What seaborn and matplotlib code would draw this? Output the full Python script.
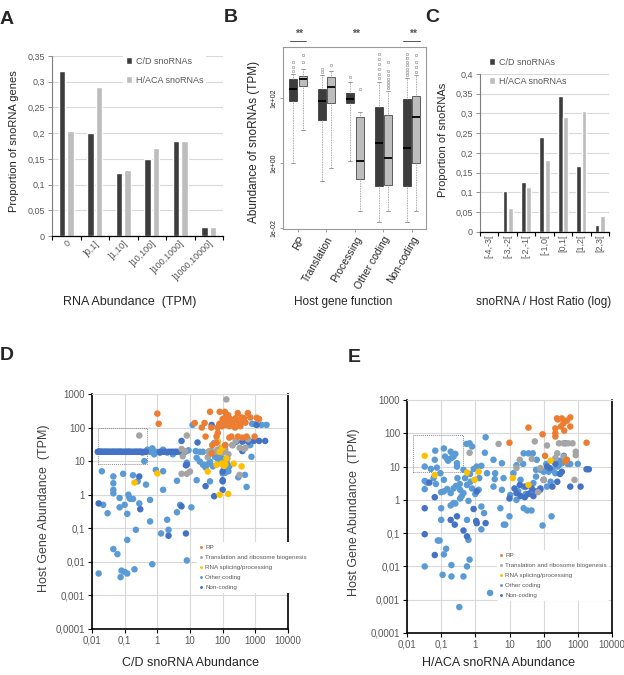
import numpy as np
import pandas as pd
import seaborn as sns
import matplotlib.pyplot as plt
from matplotlib.patches import Rectangle

# ---------------- data ----------------
# A: snoRNA abundance distribution
abund_bins = ["0", "]0,1]", "]1,10]", "]10,100]", "]100,1000]", "]1000,10000]"]
cd_abund = [0.321, 0.201, 0.122, 0.150, 0.185, 0.017]
haca_abund = [0.205, 0.289, 0.128, 0.172, 0.185, 0.017]
prop_ticks_a = [0, 0.05, 0.1, 0.15, 0.2, 0.25, 0.3, 0.35]
prop_labels_a = ["0", "0,05", "0,1", "0,15", "0,2", "0,25", "0,3", "0,35"]

# B: abundance of snoRNAs by host gene function (box stats, TPM)
host_functions = ["RP", "Translation", "Processing", "Other coding", "Non-coding"]
cd_whislo = [1.0, 0.27, 1.1, 0.0155, 0.0155]
cd_q1 = [78, 21, 72, 0.195, 0.19]
cd_med = [190, 78, 93, 4.2, 2.8]
cd_q3 = [380, 186, 145, 54, 93]
cd_whishi = [550, 500, 316, 316, 400]
cd_fliers = [[700, 900, 1300], [650, 800], [450],
             [400, 550, 800, 1100, 1600, 2300],
             [500, 650, 800, 1000, 1300, 1700, 2300]]
haca_whislo = [10.5, 0.7, 0.032, 0.032, 0.032]
haca_q1 = [235, 72, 0.32, 0.21, 0.98]
haca_med = [380, 224, 1.1, 1.4, 26]
haca_q3 = [480, 437, 26, 30, 117]
haca_whishi = [800, 700, 38, 160, 500]
haca_fliers = [[1300, 2100], [1000], [190],
               [200, 250, 300, 380, 500, 700, 1300],
               [650, 900, 1300, 2100]]
signif = ["**", "", "**", "", "**"]
signif_groups = [0, 2, 4]
signif_lines = [0, 4]

# C: snoRNA / host ratio
ratio_bins = ["[-4,-3[", "[-3,-2[", "[-2,-1[", "[-1,0[", "[0,1[", "[1,2[", "[2,3["]
cd_ratio = [0.0, 0.103, 0.127, 0.240, 0.343, 0.167, 0.017]
haca_ratio = [0.0, 0.061, 0.114, 0.183, 0.290, 0.305, 0.039]
prop_ticks_c = [0, 0.05, 0.1, 0.15, 0.2, 0.25, 0.3, 0.35, 0.4]
prop_labels_c = ["0", "0,05", "0,1", "0,15", "0,2", "0,25", "0,3", "0,35", "0,4"]

# D / E: snoRNA abundance vs host gene abundance
log_x_ticks = [0.01, 0.1, 1, 10, 100, 1000, 10000]
log_x_labels = ["0,01", "0,1", "1", "10", "100", "1000", "10000"]
log_y_ticks = [0.0001, 0.001, 0.01, 0.1, 1, 10, 100, 1000]
log_y_labels = ["0,0001", "0,001", "0,01", "0,1", "1", "10", "100", "1000"]
categories = ["RP", "Translation and ribosome biogenesis", "RNA splicing/processing",
              "Other coding", "Non-coding"]
cat_colors = ["#ED7D31", "#A5A5A5", "#FFC000", "#5B9BD5", "#4472C4"]

cd_rp = [(1.0, 260), (1.1, 130), (14, 137), (23, 100), (28, 137), (30, 54), (41, 295),
         (45, 100), (65, 54), (70, 100), (81, 295), (95, 110), (100, 180), (110, 150),
         (117, 295), (120, 200), (130, 120), (140, 160), (148, 235), (160, 110),
         (170, 180), (186, 54), (200, 140), (220, 110), (250, 190), (290, 270),
         (300, 150), (330, 120), (380, 200), (420, 160), (500, 140), (590, 270),
         (295, 54), (540, 54), (950, 54), (700, 200), (1100, 195), (1300, 180),
         (46, 17), (65, 35), (71, 69), (48, 30), (120, 30), (160, 50), (400, 50),
         (80, 130), (240, 100), (350, 110), (450, 190)]
cd_tr = [(0.28, 58), (8, 58), (5.5, 23), (6, 14), (7, 20), (8, 4.2), (5.5, 4.2), (10, 4.9),
         (36, 19), (50, 19), (60, 19), (35, 13), (40, 20), (70, 22), (90, 25), (100, 18),
         (120, 22), (130, 690), (140, 12), (150, 16), (200, 30), (250, 40), (330, 25),
         (330, 3.9), (450, 23), (500, 25), (600, 45), (60, 35)]
cd_sp = [(0.2, 2.3), (1.0, 4.3), (35, 4.9), (72, 38), (81, 19), (65, 7.8), (92, 8.4),
         (100, 8.4), (110, 7.2), (120, 8), (220, 8.4), (380, 7), (81, 1.0), (148, 1.05),
         (100, 25), (130, 12)]
cd_oc = [(0.016, 0.0045), (0.02, 5), (0.022, 0.5), (0.03, 0.28), (0.045, 3.5), (0.045, 2.2),
         (0.045, 1.4), (0.045, 1.1), (0.045, 0.024), (0.06, 0.017), (0.07, 0.8), (0.07, 0.42),
         (0.075, 0.0035), (0.08, 0.0055), (0.09, 4.2), (0.1, 0.5), (0.1, 0.005), (0.12, 0.27),
         (0.12, 0.045), (0.12, 0.0045), (0.13, 1.0), (0.14, 0.8), (0.15, 0.75), (0.18, 3.8),
         (0.18, 0.75), (0.2, 0.006), (0.22, 0.09), (0.25, 2.5), (0.28, 0.55), (0.4, 10),
         (0.45, 2), (0.6, 0.7), (0.6, 0.16), (0.7, 0.0085), (0.9, 5.5), (1.3, 0.07), (1.5, 5),
         (1.5, 1.4), (2, 0.18), (2.2, 0.09), (4, 2.6), (4, 0.3), (5, 0.5), (8, 0.011),
         (11, 0.42), (16, 2.7), (41, 2.5), (12, 120), (8, 9), (9, 21), (16, 12.6), (20, 9.7),
         (25, 7.8), (33, 7.8), (41, 9.7), (58, 13.5), (72, 19), (30, 6.5), (50, 7), (70, 12),
         (80, 15), (100, 4.3), (120, 4.5), (110, 6), (120, 30), (130, 10), (140, 8), (150, 5),
         (160, 7), (200, 30), (300, 3.3), (480, 3.9), (540, 1.7), (760, 13.5), (700, 30),
         (800, 130), (1550, 120), (2200, 120), (1000, 125), (15, 20), (20, 19), (25, 19),
         (0.5, 22), (0.6, 19), (0.7, 24), (0.9, 19), (0.8, 16), (1.5, 22), (2, 18), (3, 16),
         (6, 17), (0.35, 18), (45, 20), (55, 35), (100, 12), (90, 10)]
cd_nc = [(0.016, 0.55), (0.28, 3.5), (0.3, 0.37), (1.2, 18), (2.2, 0.06), (5.5, 0.45),
         (7.5, 0.07), (7.5, 7.5), (5.5, 40), (17, 36), (30, 1.8), (55, 0.9), (100, 2.5),
         (100, 1.4), (100, 4.9), (100, 2.7), (46, 120), (80, 120), (100, 120), (120, 120),
         (1100, 120), (260, 38), (400, 38), (600, 38), (900, 40), (1300, 40), (2000, 40),
         (400, 20), (8, 7.8)]
# many C/D snoRNAs sharing one non-coding host at ~19 TPM
cd_shared_host_tpm = 19
cd_shared_host_x = [0.015, 0.016, 0.017, 0.018, 0.019, 0.02, 0.022, 0.024, 0.026, 0.028,
                    0.03, 0.033, 0.036, 0.04, 0.043, 0.047, 0.05, 0.055, 0.06, 0.065, 0.07,
                    0.075, 0.08, 0.09, 0.1, 0.11, 0.12, 0.13, 0.14, 0.15, 0.17, 0.19, 0.21,
                    0.23, 0.25, 0.28, 0.3, 0.33, 0.4, 0.45, 1.2, 1.5, 1.8, 2.2, 2.6, 3, 3.5,
                    4, 5, 6, 7]

haca_rp = [(10, 52), (36, 148), (93, 93), (110, 21), (245, 280), (340, 280), (380, 200),
           (220, 140), (220, 100), (220, 80), (480, 240), (600, 160), (600, 300), (430, 14),
           (480, 16), (1800, 52), (320, 160), (400, 120), (260, 260)]
haca_tr = [(4.8, 48), (0.68, 26), (55, 57), (125, 43), (280, 50), (380, 50), (520, 50),
           (700, 50), (870, 28), (870, 22), (800, 4), (100, 4), (68, 1.7), (16, 9), (20, 16),
           (390, 20), (250, 25), (220, 18), (45, 17), (80, 9)]
haca_sp = [(0.033, 21), (0.065, 5.6), (0.57, 6.6), (0.95, 4.0), (1.25, 7), (12.5, 4.5),
           (36, 2.8), (160, 15)]
haca_oc = [(0.067, 30), (0.065, 16), (0.033, 10), (0.033, 3.7), (0.033, 2.1), (0.038, 3.3),
           (0.033, 0.01), (0.075, 9.3), (0.095, 6.3), (0.12, 4), (0.12, 35), (0.13, 20),
           (0.15, 17), (0.19, 28), (0.23, 20), (0.26, 24), (0.29, 12.6), (0.29, 10), (0.16, 15),
           (0.2, 18), (0.12, 1.8), (0.1, 1.7), (0.15, 2.1), (0.19, 1.6), (0.23, 2.2), (0.27, 2.6),
           (0.36, 2), (0.45, 1.6), (0.4, 1.3), (0.57, 2.8), (0.72, 3.5), (0.23, 0.8), (0.26, 0.78),
           (0.36, 1.1), (0.63, 0.93), (0.55, 48), (0.68, 50), (0.8, 40), (2.0, 76), (1.9, 26),
           (1.5, 10.5), (2.2, 6.3), (3.4, 16), (3.8, 6.3), (3.4, 2.5), (6, 12.6), (6.7, 4.5),
           (6, 2), (5.4, 0.56), (1.8, 0.4), (1.25, 2), (1.5, 0.63), (1.5, 0.13), (0.57, 0.25),
           (0.63, 0.063), (0.68, 0.016), (0.57, 0.01), (0.45, 0.005), (0.2, 0.005),
           (0.11, 0.0056), (0.2, 0.011), (0.12, 0.023), (0.14, 0.034), (0.08, 0.06),
           (0.09, 0.06), (0.1, 0.56), (0.1, 0.25), (0.19, 0.68), (3.7, 4.2), (0.34, 0.0006),
           (2.7, 0.0016), (6.8, 0.18), (7.5, 0.18), (10, 0.32), (26, 0.56), (33, 0.48),
           (44, 0.48), (93, 0.17), (170, 0.32), (16, 1), (10.5, 1.4), (13, 6.3), (16, 11),
           (26, 25), (36, 25), (48, 25), (63, 16), (80, 8), (100, 7), (140, 7), (180, 8),
           (220, 6.3), (280, 11), (340, 12.6), (430, 50), (600, 12), (1000, 12), (21, 4),
           (26, 2.5), (40, 1.6), (50, 3.2), (80, 2), (125, 2.5), (160, 3.5), (0.45, 8),
           (0.5, 4.5), (0.7, 6), (0.9, 8.5), (1.1, 10), (1.3, 4.5), (0.35, 3), (0.3, 4.5),
           (0.8, 2.2), (1.0, 1.5), (0.06, 4.5), (0.07, 3), (0.05, 8.5), (25, 12), (60, 8),
           (120, 12), (200, 15), (250, 10), (300, 15), (500, 12), (30, 1.5), (18, 1.8), (60, 5)]
haca_nc = [(0.033, 0.56), (0.033, 0.093), (0.045, 3.3), (0.065, 1.2), (0.065, 0.022),
           (0.19, 0.25), (0.29, 0.32), (0.25, 0.18), (0.45, 0.12), (0.57, 0.08), (0.89, 0.53),
           (1.06, 0.23), (1.1, 0.2), (2.0, 0.2), (1.1, 1.8), (10, 1.1), (14, 2.2), (16, 1.6),
           (21, 1.3), (28, 1.2), (36, 1.5), (50, 1.3), (80, 2.2), (100, 4), (180, 2.5),
           (250, 3.5), (340, 7), (390, 21), (600, 2.5), (1200, 2.5), (1800, 8.3), (2100, 8.3),
           (125, 10), (220, 12), (30, 2.5), (45, 2.2), (60, 1.8), (150, 9), (300, 6), (20, 2.8)]

# dotted boxes (x0, x1, y0, y1)
cd_box = [0.015, 0.48, 8.3, 100]
haca_box = [0.015, 0.43, 7.1, 87]

# ---------------- style ----------------
sns.set_style("white")
plt.rcParams["font.family"] = ["Liberation Sans", "DejaVu Sans"]
dark, light = "#3d3d3d", "#bdbdbd"
grid_c = "#d9d9d9"
tick_c = "#595959"

W, H = 624, 675
fig = plt.figure(figsize=(W / 100, H / 100), dpi=100)


def place(l, t, r, b):
    return fig.add_axes([l / W, 1 - b / H, (r - l) / W, (b - t) / H])


def at(ax, x, y):
    # pixel (from top-left) -> axes coords
    return ax.transAxes.inverted().transform((x, H - y))


def panel_letter(s, x, y):
    fig.text(x / W, 1 - y / H, s, fontsize=14, fontweight="bold", ha="center", va="center")


def bar_panel(ax, bins, cd, haca, ticks, ticklabels, rot, gap):
    df = pd.DataFrame({
        "bin": bins * 2,
        "prop": cd + haca,
        "type": ["C/D snoRNAs"] * len(bins) + ["H/ACA snoRNAs"] * len(bins),
    })
    sns.barplot(df, x="bin", y="prop", hue="type", palette=[dark, light],
                saturation=1, width=0.6, gap=gap, ax=ax)
    ax.set_xlim(-0.5, len(bins) - 0.5)
    ax.set_ylim(0, ticks[-1])
    ax.set_yticks(ticks)
    ax.set_yticklabels(ticklabels)
    ax.yaxis.grid(True, color=grid_c, lw=0.8)
    ax.set_axisbelow(True)
    for s in ["top", "right"]:
        ax.spines[s].set_visible(False)
    ax.spines["left"].set_color("#7f7f7f")
    ax.spines["left"].set_linewidth(0.8)
    ax.spines["bottom"].set_color("black")
    ax.spines["bottom"].set_linewidth(0.9)
    ax.tick_params(axis="y", left=True, length=3, width=0.6, color="#7f7f7f",
                   labelsize=6.5, labelcolor=tick_c, pad=2)
    ax.set_xticks(range(len(bins)))
    ax.set_xticks(np.arange(len(bins) + 1) - 0.5, minor=True)
    ax.tick_params(axis="x", which="major", length=0, labelsize=6.5, labelcolor=tick_c, pad=2)
    ax.tick_params(axis="x", which="minor", bottom=True, length=3, width=0.8, color="black")
    if rot == 90:
        ax.set_xticklabels(bins, rotation=90, ha="center", va="top")
    else:
        ax.set_xticklabels(bins, rotation=rot, ha="right", va="top", rotation_mode="anchor")
    ax.set_xlabel("")
    ax.set_ylabel("")


# ---------------- A ----------------
ax_a = place(52, 56, 223, 236)
bar_panel(ax_a, abund_bins, cd_abund, haca_abund, prop_ticks_a, prop_labels_a, 45, 0.25)
h, l = ax_a.get_legend_handles_labels()
ax_a.legend(h, l, loc="upper left", bbox_to_anchor=at(ax_a, 123, 54), fontsize=6.5,
            frameon=True, facecolor="white", edgecolor="none", framealpha=1,
            handlelength=0.7, handleheight=0.7, handletextpad=0.4, labelspacing=1.1,
            borderpad=0.3, borderaxespad=0, labelcolor=tick_c)
ax_a.set_ylabel("Proportion of snoRNA genes", fontsize=8)
ax_a.yaxis.set_label_coords(*at(ax_a, 19, 141))
ax_a.set_xlabel("RNA Abundance  (TPM)", fontsize=9)
ax_a.xaxis.set_label_coords(*at(ax_a, 130, 296))

# ---------------- B ----------------
ax_b = place(283, 47, 426, 229)
pos = np.arange(len(host_functions))
for off, col, lo, q1, md, q3, hi, fl in [
        (-0.165, dark, cd_whislo, cd_q1, cd_med, cd_q3, cd_whishi, cd_fliers),
        (0.165, light, haca_whislo, haca_q1, haca_med, haca_q3, haca_whishi, haca_fliers)]:
    stats = [dict(whislo=lo[i], q1=q1[i], med=md[i], q3=q3[i], whishi=hi[i], fliers=fl[i])
             for i in range(len(host_functions))]
    ax_b.bxp(stats, positions=pos + off, widths=0.28, patch_artist=True,
             boxprops=dict(facecolor=col, edgecolor="#2a2a2a", lw=0.5),
             medianprops=dict(color="black", lw=1.3),
             whiskerprops=dict(color="#8c8c8c", lw=0.6, linestyle=(0, (1, 1))),
             capprops=dict(color="#8c8c8c", lw=0.6), capwidths=0.14,
             flierprops=dict(marker="o", markersize=1.8, markerfacecolor="none",
                             markeredgecolor="#8c8c8c", markeredgewidth=0.4))
ax_b.set_yscale("log")
ax_b.set_ylim(10 ** -2.04, 10 ** 3.57)
ax_b.set_xlim(-0.53, 4.5)
ax_b.set_yticks([0.01, 1, 100])
ax_b.set_yticklabels(["1e-02", "1e+00", "1e+02"], rotation=90, va="center")
ax_b.yaxis.set_minor_locator(plt.NullLocator())
ax_b.tick_params(axis="y", left=True, length=2.5, width=0.5, color="#7f7f7f", labelsize=5, pad=1.5)
ax_b.set_xticks(pos)
ax_b.set_xticklabels(host_functions, rotation=60, ha="right", va="top", rotation_mode="anchor")
ax_b.tick_params(axis="x", bottom=True, length=2, width=0.5, color="#7f7f7f", labelsize=7.5, pad=2)
for s in ax_b.spines.values():
    s.set_color("#9a9a9a")
    s.set_linewidth(0.8)
for g in signif_groups:
    ax_b.text(g + 0.05, 1.07, signif[g], transform=ax_b.get_xaxis_transform(),
              ha="center", va="center", fontsize=7.5, fontweight="bold",
              color="#555555", clip_on=False)
for g in signif_lines:
    ax_b.plot([g - 0.3, g + 0.28], [1.033, 1.033], transform=ax_b.get_xaxis_transform(),
              color="#555555", lw=0.7, clip_on=False)
ax_b.set_ylabel("Abundance of snoRNAs (TPM)", fontsize=8.5)
ax_b.yaxis.set_label_coords(*at(ax_b, 260, 142))
ax_b.set_xlabel("Host gene function", fontsize=8.5)
ax_b.xaxis.set_label_coords(*at(ax_b, 343, 296))

# ---------------- C ----------------
ax_c = place(480, 74, 609, 231.7)
bar_panel(ax_c, ratio_bins, cd_ratio, haca_ratio, prop_ticks_c, prop_labels_c, 90, 0.15)
h, l = ax_c.get_legend_handles_labels()
ax_c.legend(h, l, loc="upper left", bbox_to_anchor=at(ax_c, 486, 55), fontsize=6.5,
            frameon=False, handlelength=0.7, handleheight=0.7, handletextpad=0.4,
            labelspacing=1.1, borderpad=0.3, borderaxespad=0, labelcolor=tick_c)
ax_c.set_ylabel("Proportion of snoRNAs", fontsize=8)
ax_c.yaxis.set_label_coords(*at(ax_c, 448, 140))
ax_c.set_xlabel("snoRNA / Host Ratio (log)", fontsize=8.5)
ax_c.xaxis.set_label_coords(*at(ax_c, 544, 296))


# ---------------- D / E ----------------
def scatter_panel(ax, groups, box, legend_px, xlabel):
    rows = []
    for cat in [3, 4, 1, 2, 0]:
        for x, y in groups[cat]:
            rows.append((x, y, categories[cat]))
    df = pd.DataFrame(rows, columns=["snorna", "host", "function"])
    sns.scatterplot(df, x="snorna", y="host", hue="function", hue_order=categories,
                    palette=cat_colors, s=22, linewidth=0, alpha=1, ax=ax, zorder=3)
    ax.set_xscale("log")
    ax.set_yscale("log")
    ax.set_xlim(0.01, 10000)
    ax.set_ylim(0.0001, 1000)
    ax.set_xticks(log_x_ticks)
    ax.set_xticklabels(log_x_labels)
    ax.set_yticks(log_y_ticks)
    ax.set_yticklabels(log_y_labels)
    ax.xaxis.set_minor_locator(plt.NullLocator())
    ax.yaxis.set_minor_locator(plt.NullLocator())
    ax.grid(True, color=grid_c, lw=0.8)
    ax.set_axisbelow(True)
    for s in ["left", "bottom", "right"]:
        ax.spines[s].set_color("black")
        ax.spines[s].set_linewidth(1.2)
    ax.spines["top"].set_color(grid_c)
    ax.spines["top"].set_linewidth(0.8)
    ax.tick_params(left=True, bottom=True, length=3, width=0.8, color="black",
                   labelsize=7, labelcolor=tick_c, pad=2)
    ax.add_patch(Rectangle((box[0], box[2]), box[1] - box[0], box[3] - box[2],
                           fill=False, ec="#8c8c8c", lw=0.7, ls=(0, (1, 1)), zorder=2))
    h, l = ax.get_legend_handles_labels()
    leg = ax.legend(h, l, loc="upper left", bbox_to_anchor=at(ax, *legend_px), fontsize=4.5,
                    frameon=True, facecolor="white", edgecolor="none", framealpha=1,
                    markerscale=0.45, handlelength=0.6, handletextpad=0.3,
                    labelspacing=0.75, borderpad=0.4, borderaxespad=0, labelcolor=tick_c)
    leg.set_zorder(10)
    ax.set_ylabel("Host Gene Abundance  (TPM)", fontsize=9, color="#404040")
    ax.set_xlabel(xlabel, fontsize=9)


ax_d = place(92, 394, 288, 629)
scatter_panel(ax_d, [cd_rp, cd_tr, cd_sp, cd_oc,
                     cd_nc + [(x, cd_shared_host_tpm) for x in cd_shared_host_x]],
              cd_box, (197, 542), "C/D snoRNA Abundance")
ax_d.yaxis.set_label_coords(*at(ax_d, 50, 508))
ax_d.xaxis.set_label_coords(*at(ax_d, 191, 657))

ax_e = place(407, 400, 612, 633)
scatter_panel(ax_e, [haca_rp, haca_tr, haca_sp, haca_oc, haca_nc],
              haca_box, (497, 550), "H/ACA snoRNA Abundance")
ax_e.yaxis.set_label_coords(*at(ax_e, 360, 512))
ax_e.xaxis.set_label_coords(*at(ax_e, 498, 657))

panel_letter("A", 7, 19)
panel_letter("B", 231, 18)
panel_letter("C", 432, 17)
panel_letter("D", 7, 355)
panel_letter("E", 354, 358)

fig.savefig("out.png", dpi=100)
